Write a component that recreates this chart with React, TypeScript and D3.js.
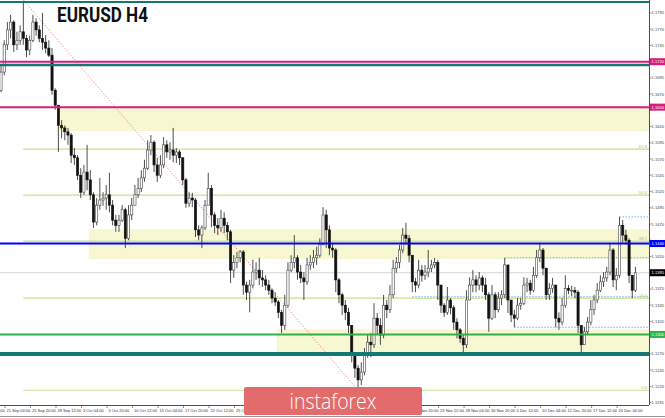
import React from "react";
import * as d3 from "d3";

// 8-hour candles (EURUSD), first candle starts 20 Sep 16:00
const firstOpen = 1.1676;
const firstCandleH4 = -3; // index in H4 bars (0 = 21 Sep 04:00)
const closes = [
  1.1704, 1.1746, 1.1769, 1.1781, 1.1746, 1.1753, 1.1766, 1.1756, 1.1738, 1.1753,
  1.1781, 1.1769, 1.1756, 1.175, 1.1741, 1.173, 1.1676, 1.1653, 1.1622, 1.1618,
  1.1612, 1.1607, 1.1576, 1.1572, 1.1545, 1.1519, 1.155, 1.1538, 1.1515, 1.1473,
  1.1499, 1.1507, 1.151, 1.1515, 1.1499, 1.1476, 1.1468, 1.1476, 1.1492, 1.1448,
  1.1484, 1.1499, 1.1515, 1.1525, 1.1541, 1.1556, 1.1584, 1.1596, 1.1561, 1.1545,
  1.1561, 1.1592, 1.1581, 1.1584, 1.1576, 1.1581, 1.1572, 1.1538, 1.1502, 1.151,
  1.1507, 1.1461, 1.1453, 1.1464, 1.1499, 1.1525, 1.1484, 1.1468, 1.1464, 1.1479,
  1.1468, 1.1458, 1.1399, 1.1411, 1.1418, 1.1427, 1.1376, 1.1365, 1.1376, 1.1396,
  1.1399, 1.1387, 1.1384, 1.1376, 1.1368, 1.1356, 1.135, 1.1334, 1.1314, 1.1345,
  1.1399, 1.1411, 1.1418, 1.1396, 1.1387, 1.1381, 1.1407, 1.1411, 1.1418, 1.1422,
  1.1438, 1.1484, 1.1461, 1.1433, 1.143, 1.1384, 1.1361, 1.1345, 1.1334, 1.1314,
  1.1268, 1.1248, 1.123, 1.1242, 1.1268, 1.1288, 1.1284, 1.1325, 1.1314, 1.1299,
  1.1345, 1.1338, 1.1361, 1.1402, 1.1411, 1.143, 1.1453, 1.1448, 1.1422, 1.1381,
  1.1376, 1.1399, 1.1391, 1.1396, 1.1402, 1.1407, 1.1411, 1.1376, 1.1345, 1.1334,
  1.1353, 1.1341, 1.1319, 1.1307, 1.1294, 1.1284, 1.1353, 1.1376, 1.1384, 1.1376,
  1.1387, 1.1376, 1.1361, 1.1325, 1.1361, 1.1338, 1.1356, 1.1361, 1.1407, 1.1353,
  1.133, 1.1325, 1.1345, 1.1348, 1.1376, 1.1379, 1.1368, 1.1391, 1.1418, 1.143,
  1.1402, 1.1361, 1.1371, 1.1376, 1.1325, 1.1319, 1.1345, 1.1371, 1.1368, 1.1368,
  1.1365, 1.1314, 1.1284, 1.1304, 1.1319, 1.1338, 1.1353, 1.1368, 1.1381, 1.1387,
  1.1396, 1.143, 1.1384, 1.1391, 1.1468, 1.1453, 1.1445, 1.1391, 1.1368, 1.1395,
];
const highs = [
  1.1715, 1.1753, 1.1781, 1.1792, 1.1784, 1.1766, 1.1776, 1.1812, 1.1761, 1.176,
  1.1792, 1.1787, 1.1776, 1.1795, 1.1761, 1.1753, 1.1741, 1.1679, 1.1653, 1.163,
  1.1622, 1.1618, 1.161, 1.1587, 1.1576, 1.1556, 1.1561, 1.1592, 1.1553, 1.1519,
  1.151, 1.1541, 1.1519, 1.153, 1.1549, 1.1507, 1.1484, 1.1484, 1.1499, 1.1495,
  1.1499, 1.151, 1.153, 1.1541, 1.1553, 1.1569, 1.1599, 1.1607, 1.1599, 1.1572,
  1.1576, 1.1604, 1.1599, 1.1596, 1.1618, 1.1587, 1.1584, 1.1573, 1.1541, 1.1519,
  1.1518, 1.151, 1.1468, 1.1468, 1.1507, 1.1549, 1.153, 1.1488, 1.1479, 1.1492,
  1.1488, 1.1473, 1.1461, 1.1422, 1.1427, 1.143, 1.143, 1.1381, 1.1384, 1.1415,
  1.1411, 1.1418, 1.1399, 1.1391, 1.1384, 1.1371, 1.1365, 1.1353, 1.1338, 1.1361,
  1.1411, 1.1422, 1.1453, 1.1422, 1.1407, 1.1396, 1.1418, 1.1422, 1.143, 1.1435,
  1.1448, 1.1496, 1.1492, 1.1468, 1.1441, 1.1433, 1.1387, 1.1364, 1.1353, 1.1341,
  1.1314, 1.1273, 1.1253, 1.1257, 1.1279, 1.1299, 1.1302, 1.1348, 1.1333, 1.1325,
  1.1361, 1.1353, 1.1376, 1.1415, 1.1419, 1.1438, 1.1464, 1.1472, 1.1453, 1.1422,
  1.1387, 1.1415, 1.1407, 1.1407, 1.143, 1.1415, 1.1418, 1.1415, 1.1376, 1.1348,
  1.1373, 1.1356, 1.1345, 1.1325, 1.131, 1.1299, 1.1368, 1.1388, 1.1399, 1.1391,
  1.1396, 1.1391, 1.1387, 1.1365, 1.1376, 1.1365, 1.1365, 1.1368, 1.1418, 1.1402,
  1.1353, 1.1338, 1.1356, 1.1356, 1.1388, 1.1387, 1.1384, 1.1404, 1.143, 1.1441,
  1.1433, 1.1402, 1.1379, 1.1387, 1.1376, 1.1334, 1.1356, 1.1391, 1.1376, 1.1375,
  1.1373, 1.1368, 1.1314, 1.1311, 1.1327, 1.1353, 1.1361, 1.1379, 1.1391, 1.1396,
  1.1404, 1.1441, 1.1433, 1.1402, 1.1481, 1.1476, 1.1461, 1.1448, 1.1391, 1.1404,
];
const lows = [
  1.1673, 1.1699, 1.1738, 1.1756, 1.1735, 1.1738, 1.1746, 1.1746, 1.1727, 1.173,
  1.175, 1.176, 1.175, 1.1738, 1.1733, 1.1727, 1.1669, 1.1646, 1.1581, 1.1602,
  1.1599, 1.1592, 1.1564, 1.1561, 1.1538, 1.151, 1.1515, 1.1522, 1.1507, 1.1464,
  1.1468, 1.1492, 1.1498, 1.1492, 1.1488, 1.1468, 1.1458, 1.1458, 1.1473, 1.1433,
  1.1445, 1.1476, 1.1499, 1.151, 1.1519, 1.1535, 1.1553, 1.1576, 1.155, 1.1535,
  1.1541, 1.1556, 1.1572, 1.1569, 1.1565, 1.1564, 1.1561, 1.153, 1.1495, 1.1496,
  1.1496, 1.145, 1.1445, 1.1433, 1.1461, 1.1499, 1.1465, 1.1456, 1.1453, 1.1458,
  1.1456, 1.1445, 1.1379, 1.1387, 1.1402, 1.1411, 1.1361, 1.1353, 1.1334, 1.1371,
  1.1384, 1.1376, 1.1373, 1.1368, 1.1361, 1.1348, 1.1344, 1.1325, 1.1302, 1.1307,
  1.1341, 1.1396, 1.1402, 1.1384, 1.1379, 1.1353, 1.1376, 1.1399, 1.1402, 1.1407,
  1.1418, 1.1438, 1.1433, 1.1422, 1.1418, 1.1365, 1.1348, 1.133, 1.1322, 1.1302,
  1.1257, 1.1233, 1.1214, 1.1222, 1.1237, 1.1264, 1.1265, 1.1279, 1.1299, 1.1284,
  1.1294, 1.1325, 1.1333, 1.1356, 1.1395, 1.1402, 1.1425, 1.1438, 1.1411, 1.1365,
  1.1365, 1.1371, 1.1381, 1.1384, 1.1388, 1.1396, 1.1402, 1.1353, 1.1333, 1.1327,
  1.133, 1.1331, 1.1307, 1.1294, 1.1287, 1.1268, 1.1279, 1.1353, 1.1365, 1.1365,
  1.1368, 1.1365, 1.1353, 1.1304, 1.1322, 1.1325, 1.1334, 1.1345, 1.1356, 1.1333,
  1.1319, 1.1311, 1.1322, 1.1338, 1.1345, 1.1365, 1.1361, 1.1365, 1.1387, 1.1411,
  1.1391, 1.1353, 1.1353, 1.1364, 1.1311, 1.1307, 1.1314, 1.1341, 1.1362, 1.1359,
  1.1356, 1.1302, 1.1268, 1.1284, 1.1299, 1.1314, 1.133, 1.1348, 1.1365, 1.1373,
  1.1381, 1.1391, 1.1373, 1.1368, 1.1387, 1.1441, 1.1438, 1.1379, 1.1356, 1.1365,
];

// time axis labels, one every 16 H4 bars, first one at H4 index -16
const timeLabels = [
  "18 Sep 12:00", "21 Sep 04:00", "25 Sep 20:00", "28 Sep 12:00", "3 Oct 04:00",
  "5 Oct 20:00", "10 Oct 12:00", "15 Oct 04:00", "17 Oct 20:00", "22 Oct 12:00",
  "25 Oct 04:00", "29 Oct 20:00", "1 Nov 12:00", "6 Nov 04:00", "8 Nov 20:00",
  "13 Nov 12:00", "16 Nov 04:00", "20 Nov 20:00", "23 Nov 12:00", "28 Nov 04:00",
  "30 Nov 20:00", "5 Dec 12:00", "10 Dec 04:00", "12 Dec 20:00", "17 Dec 12:00",
  "20 Dec 04:00",
];
const priceTicks = [
  1.1795, 1.177, 1.1745, 1.172, 1.1695, 1.167, 1.1645, 1.162, 1.1595, 1.157,
  1.1545, 1.152, 1.1495, 1.147, 1.1445, 1.142, 1.1395, 1.137, 1.1345, 1.132,
  1.1295, 1.127, 1.1245, 1.122, 1.1195,
];

// Fibonacci retracement (high -> low)
const fibHigh = 1.1815;
const fibHighCandle = 7;
const fibLow = 1.1214;
const fibLowCandle = 112;
const fibRatios = [0, 0.236, 0.382, 0.5, 0.618];
const fibNames = ["0.0", "23.6", "38.2", "50.0", "61.8"];

// zones
const zoneTops = [1.1649, 1.1462, 1.1308];
const zoneBottoms = [1.1613, 1.1416, 1.1271];
const zoneStartCandles = [18, 28, 87];

// dotted levels
const dottedLevels = [1.1481, 1.1418, 1.1358, 1.1311];
const dottedStartCandles = [194, 158, 129, 161];

// solid levels
const pinkLevels = [1.172, 1.165];
const tealLevels = [1.1812, 1.1715, 1.127];
const blueLevel = 1.144;
const greenLevel = 1.13;

const PLOT_R = 649;
const PLOT_B = 405;
const LOGO_X0 = 244;
const LOGO_X1 = 422;
const FONT = "'Liberation Sans', Arial, sans-serif";

export default function App() {
  const y = d3.scaleLinear().domain([1.11913, 1.1815]).range([PLOT_B, 0]);
  const x = d3.scaleLinear().domain([-3.14, 404]).range([0, PLOT_R]);
  const cx = (j: number) => x(firstCandleH4 + 2 * j + 0.5);
  const bodyW = 2.2;

  const candles = closes.map((c, j) => {
    const o = j === 0 ? firstOpen : closes[j - 1];
    const h = Math.max(highs[j], o, c);
    const l = Math.min(lows[j], o, c);
    return { o, c, h, l, j };
  });

  const lastClose = closes[closes.length - 1];
  const boxes = [
    { p: pinkLevels[0], fill: "#d81b7f" },
    { p: pinkLevels[1], fill: "#d81b7f" },
    { p: blueLevel, fill: "#0000ff" },
    { p: lastClose, fill: "#000000" },
    { p: greenLevel, fill: "#2eb04a" },
  ];

  const fibLevel = (r: number) => fibLow + (fibHigh - fibLow) * r;

  // tick labels covered by a coloured price box are hidden (as in the reference)
  const shownTicks = priceTicks.filter((p) => boxes.every((b) => Math.abs(y(p) - y(b.p)) > 6.5));

  // labels fully hidden behind the logo are not drawn (as in the reference)
  const shownLabels = timeLabels
    .map((t, i) => ({ t, xx: x(16 * (i - 1)) }))
    .filter((d) => !(d.xx > LOGO_X0 - 2 && d.xx + 24 < LOGO_X1 + 6));

  return (
    <svg
      width={665}
      height={418}
      style={{ position: "absolute", left: 0, top: 0, background: "#fff" }}
      fontFamily={FONT}
    >
      <defs>
        <clipPath id="plot">
          <rect x={0} y={0} width={PLOT_R} height={PLOT_B} />
        </clipPath>
      </defs>
      <rect x={0} y={0} width={665} height={418} fill="#fff" />
      <g clipPath="url(#plot)">
        {zoneTops.map((t, i) => (
          <rect
            key={"z" + i}
            x={cx(zoneStartCandles[i]) - 1.6}
            y={y(t)}
            width={PLOT_R - (cx(zoneStartCandles[i]) - 1.6)}
            height={y(zoneBottoms[i]) - y(t)}
            fill="#f7f7d2"
          />
        ))}
        {fibRatios.map((r, i) => (
          <line
            key={"f" + i}
            x1={cx(fibHighCandle)}
            x2={PLOT_R}
            y1={y(fibLevel(r))}
            y2={y(fibLevel(r))}
            stroke="#c4e08c"
            strokeWidth={1.2}
          />
        ))}
        <line x1={0} x2={PLOT_R} y1={y(lastClose)} y2={y(lastClose)} stroke="#d4d4d4" strokeWidth={1.2} />
        {dottedLevels.map((p, i) => (
          <line
            key={"d" + i}
            x1={cx(dottedStartCandles[i])}
            x2={PLOT_R}
            y1={y(p)}
            y2={y(p)}
            stroke="#5a9be6"
            strokeWidth={0.8}
            strokeDasharray="1.5,1.5"
          />
        ))}
        <line
          x1={cx(fibHighCandle)}
          y1={y(fibHigh)}
          x2={cx(fibLowCandle)}
          y2={y(fibLow)}
          stroke="#f07070"
          strokeWidth={0.9}
          strokeDasharray="1.2,1.8"
        />
        {candles.map((d) => {
          const xc = cx(d.j);
          const bull = d.c >= d.o;
          const top = y(Math.max(d.o, d.c));
          const bot = y(Math.min(d.o, d.c));
          return (
            <g key={"c" + d.j}>
              <line x1={xc} x2={xc} y1={y(d.h)} y2={y(d.l)} stroke="#222" strokeWidth={0.8} />
              <rect
                x={xc - bodyW / 2}
                y={top}
                width={bodyW}
                height={Math.max(0.8, bot - top)}
                fill={bull ? "#ffffff" : "#111"}
                stroke={bull ? "#444" : "#111"}
                strokeWidth={0.6}
              />
            </g>
          );
        })}
        {tealLevels.map((p, i) => (
          <line
            key={"t" + i}
            x1={0}
            x2={PLOT_R}
            y1={y(p)}
            y2={y(p)}
            stroke="#137873"
            strokeWidth={i === 2 ? 4 : i === 1 ? 2.5 : 2}
          />
        ))}
        {pinkLevels.map((p, i) => (
          <line key={"p" + i} x1={0} x2={PLOT_R} y1={y(p)} y2={y(p)} stroke="#d81b7f" strokeWidth={2} />
        ))}
        <line x1={0} x2={PLOT_R} y1={y(blueLevel)} y2={y(blueLevel)} stroke="#0000ff" strokeWidth={2} />
        <line x1={0} x2={PLOT_R} y1={y(greenLevel)} y2={y(greenLevel)} stroke="#2eb04a" strokeWidth={2} />
        {fibRatios.map((r, i) => (
          <text
            key={"fl" + i}
            x={PLOT_R - 2}
            y={y(fibLevel(r)) - 1.2}
            fontSize={4.2}
            textAnchor="end"
            fill="#a6c860"
          >
            {fibNames[i]}
          </text>
        ))}
      </g>

      {/* title */}
      <text
        x={57}
        y={22}
        fontFamily="Roboto, 'Liberation Sans', sans-serif"
        fontWeight="bold"
        fontSize={21}
        fill="#111"
        textLength={91}
        lengthAdjust="spacingAndGlyphs"
      >
        EURUSD H4
      </text>

      {/* axes frame */}
      <line x1={PLOT_R + 0.5} x2={PLOT_R + 0.5} y1={0} y2={PLOT_B} stroke="#222" strokeWidth={0.8} />
      <line x1={0} x2={PLOT_R} y1={PLOT_B + 0.5} y2={PLOT_B + 0.5} stroke="#222" strokeWidth={0.8} />
      <line x1={0} x2={665} y1={416.5} y2={416.5} stroke="#999" strokeWidth={1} />

      {/* price axis */}
      {priceTicks.map((p, i) => (
        <line key={"ptl" + i} x1={PLOT_R} x2={PLOT_R + 2.5} y1={y(p)} y2={y(p)} stroke="#444" strokeWidth={0.6} />
      ))}
      {shownTicks.map((p, i) => (
        <text key={"pt" + i} x={PLOT_R + 2.5} y={y(p) + 1.5} fontSize={4.1} fill="#444">
          {p.toFixed(4)}
        </text>
      ))}
      {boxes.map((b, i) => (
        <g key={"b" + i}>
          <rect x={PLOT_R + 0.8} y={y(b.p) - 3.5} width={15.2} height={7} fill={b.fill} />
          <text x={PLOT_R + 2.5} y={y(b.p) + 1.5} fontSize={4.1} fill="#fff">
            {b.p.toFixed(4)}
          </text>
        </g>
      ))}

      {/* time axis */}
      {shownLabels.map((d, i) => (
        <g key={"tl" + i}>
          <line x1={d.xx} x2={d.xx} y1={PLOT_B} y2={PLOT_B + 3} stroke="#444" strokeWidth={0.6} />
          <text x={d.xx + 1.5} y={412} fontSize={4} fill="#333">
            {d.t}
          </text>
        </g>
      ))}

      {/* logo */}
      <rect x={LOGO_X0} y={387} width={LOGO_X1 - LOGO_X0} height={28} rx={2} fill="#e46b6b" />
      <text
        x={333}
        y={408.5}
        textAnchor="middle"
        fontFamily="'Open Sans', Lato, sans-serif"
        fontWeight={300}
        fontSize={22}
        fill="#fff"
        textLength={87}
        lengthAdjust="spacingAndGlyphs"
      >
        instaforex
      </text>
    </svg>
  );
}
